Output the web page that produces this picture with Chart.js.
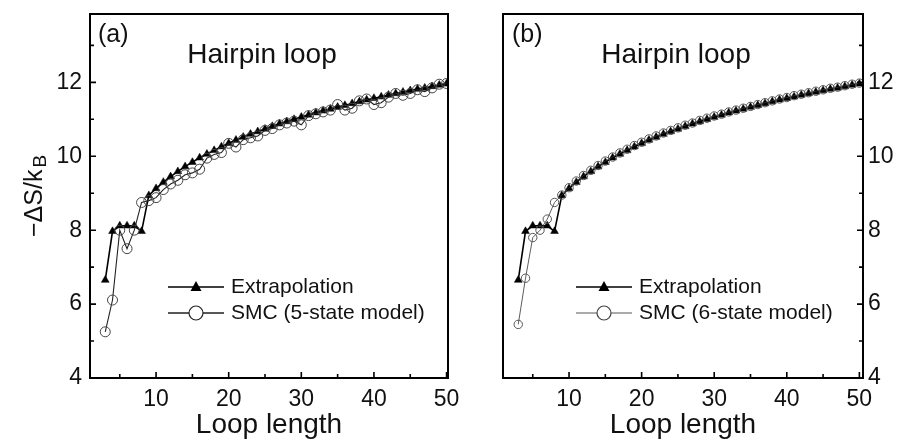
<!DOCTYPE html>
<html>
<head>
<meta charset="utf-8">
<script src="https://cdn.jsdelivr.net/npm/chart.js@4.4.1/dist/chart.umd.min.js"></script>
<style>
    html, body { margin: 0; padding: 0; background: #fff; }
    #wrap { position: relative; width: 900px; height: 443px; }
    .panel { position: absolute; top: 0; height: 443px; }
    #pa { left: 0; width: 460px; }
    #pb { left: 460px; width: 440px; }
</style>
</head>
<body>
<div id="wrap">
    <div class="panel" id="pa"><canvas id="chartA" width="460" height="443"></canvas></div>
    <div class="panel" id="pb"><canvas id="chartB" width="440" height="443"></canvas></div>
</div>
<script>
const loopLength = [3, 4, 5, 6, 7, 8, 9, 10, 11, 12, 13, 14, 15, 16, 17, 18, 19, 20, 21, 22, 23, 24, 25, 26,
    27, 28, 29, 30, 31, 32, 33, 34, 35, 36, 37, 38, 39, 40, 41, 42, 43, 44, 45, 46, 47, 48, 49, 50];
const extrapolation = [6.65, 7.97, 8.12, 8.12, 8.12, 7.97, 8.94, 9.13, 9.30, 9.45, 9.59, 9.72, 9.84, 9.96, 10.06, 10.16,
    10.26, 10.35, 10.44, 10.52, 10.60, 10.67, 10.74, 10.81, 10.88, 10.94, 11.00, 11.06, 11.12, 11.18, 11.23, 11.28,
    11.33, 11.38, 11.43, 11.48, 11.53, 11.57, 11.61, 11.66, 11.70, 11.74, 11.78, 11.82, 11.85, 11.89, 11.93, 11.96];
const smc5 = [5.25, 6.11, 8.0, 7.5, 8.0, 8.75, 8.8, 8.88, 9.1, 9.25, 9.35, 9.5, 9.55, 9.65, 9.95, 10.05,
    10.1, 10.35, 10.25, 10.45, 10.5, 10.55, 10.7, 10.75, 10.85, 10.9, 10.95, 10.85, 11.1, 11.15, 11.2, 11.25,
    11.4, 11.25, 11.3, 11.5, 11.55, 11.4, 11.45, 11.6, 11.7, 11.65, 11.7, 11.8, 11.75, 11.85, 11.95, 11.97];
const smc6 = [5.45, 6.7, 7.8, 8.0, 8.3, 8.75, 8.95, 9.15, 9.33, 9.48, 9.62, 9.75, 9.87, 9.98, 10.09, 10.19,
    10.29, 10.38, 10.47, 10.55, 10.63, 10.7, 10.77, 10.84, 10.9, 10.97, 11.03, 11.09, 11.14, 11.2, 11.25, 11.3,
    11.35, 11.4, 11.45, 11.5, 11.55, 11.59, 11.64, 11.68, 11.72, 11.76, 11.8, 11.84, 11.87, 11.91, 11.95, 11.98];
const xTicks = [10, 20, 30, 40, 50];
const xMinor = [5, 15, 25, 35, 45];
const yTicks = [4, 6, 8, 10, 12];
const yMinor = [5, 7, 9, 11, 13];

const FONT = "'Liberation Sans', Arial, sans-serif";

// box around the plot + inward ticks
const framePlugin = {
    id: 'frame',
    afterDraw(chart, args, opts) {
        const { ctx, chartArea: a, scales: { x, y } } = chart;
        ctx.save();
        ctx.strokeStyle = '#000';
        ctx.lineWidth = 2;
        ctx.strokeRect(a.left, a.top, a.right - a.left, a.bottom - a.top);
        ctx.lineWidth = 1.6;
        ctx.beginPath();
        xTicks.forEach(v => { const p = x.getPixelForValue(v); ctx.moveTo(p, a.bottom); ctx.lineTo(p, a.bottom - 6); });
        xMinor.forEach(v => { const p = x.getPixelForValue(v); ctx.moveTo(p, a.bottom); ctx.lineTo(p, a.bottom - 4); });
        const edge = opts.side === 'right' ? a.right : a.left;
        const dir = opts.side === 'right' ? -1 : 1;
        yTicks.forEach(v => { const p = y.getPixelForValue(v); ctx.moveTo(edge, p); ctx.lineTo(edge + dir * 6, p); });
        yMinor.forEach(v => { const p = y.getPixelForValue(v); ctx.moveTo(edge, p); ctx.lineTo(edge + dir * 4, p); });
        ctx.stroke();
        ctx.restore();
    }
};

// panel letter, title, legend and (panel a) the y title
const notesPlugin = {
    id: 'notes',
    afterDraw(chart, args, o) {
        const ctx = chart.ctx;
        ctx.save();
        ctx.fillStyle = '#111';
        ctx.textBaseline = 'middle';
        ctx.font = `25px ${FONT}`;
        ctx.textAlign = 'left';
        ctx.fillText(o.letter, o.letterX, 35);
        ctx.font = `28px ${FONT}`;
        ctx.textAlign = 'center';
        ctx.fillText('Hairpin loop', o.titleX, 55);

        // legend
        const lx0 = o.legendX, lx1 = o.legendX + 56, mx = o.legendX + 28;
        ctx.strokeStyle = '#000';
        ctx.lineWidth = 1.6;
        ctx.beginPath(); ctx.moveTo(lx0, 287); ctx.lineTo(lx1, 287); ctx.stroke();
        ctx.fillStyle = '#000';
        ctx.beginPath(); ctx.moveTo(mx, 281); ctx.lineTo(mx + 5.5, 291); ctx.lineTo(mx - 5.5, 291); ctx.closePath(); ctx.fill();
        ctx.strokeStyle = o.smcColor;
        ctx.lineWidth = o.smcLine;
        ctx.beginPath(); ctx.moveTo(lx0, 313); ctx.lineTo(mx - 7, 313); ctx.moveTo(mx + 7, 313); ctx.lineTo(lx1, 313); ctx.stroke();
        ctx.lineWidth = 1.2;
        ctx.beginPath(); ctx.arc(mx, 313, 7, 0, Math.PI * 2); ctx.stroke();
        ctx.fillStyle = '#111';
        ctx.font = `21px ${FONT}`;
        ctx.textAlign = 'left';
        ctx.fillText('Extrapolation', lx1 + 7, 287);
        ctx.fillText(o.smcLabel, lx1 + 7, 313);

        if (o.yTitle) {
            ctx.translate(42, 237);
            ctx.rotate(-Math.PI / 2);
            ctx.textBaseline = 'alphabetic';
            ctx.font = `25px ${FONT}`;
            ctx.fillText('\u2212\u0394S/k', 0, 0);
            const w = ctx.measureText('\u2212\u0394S/k').width;
            ctx.font = `19px ${FONT}`;
            ctx.fillText('B', w + 2, 4);
        }
        ctx.restore();
    }
};

function makeChart(id, side, xMax, smc, smcStyle, notes) {
    const right = side === 'right';
    return new Chart(document.getElementById(id), {
        type: 'line',
        data: {
            datasets: [
                {
                    label: 'Extrapolation',
                    data: loopLength.map((v, i) => ({ x: v, y: extrapolation[i] })),
                    borderColor: '#000', borderWidth: 1.6,
                    pointStyle: 'triangle', pointRadius: 4.5,
                    pointBackgroundColor: '#000', pointBorderColor: '#000', pointBorderWidth: 0.5,
                    tension: 0, order: 2
                },
                {
                    label: notes.smcLabel,
                    data: loopLength.map((v, i) => ({ x: v, y: smc[i] })),
                    borderColor: smcStyle.line, borderWidth: smcStyle.lineWidth,
                    pointStyle: 'circle', pointRadius: smcStyle.radius,
                    pointBackgroundColor: 'rgba(0,0,0,0)', pointBorderColor: smcStyle.point, pointBorderWidth: 1,
                    tension: 0, order: 1
                }
            ]
        },
        options: {
            responsive: false,
            animation: false,
            layout: { padding: right ? { left: 43, right: 0, top: 14, bottom: 0 } : { left: 30, right: 12, top: 14, bottom: 0 } },
            plugins: {
                legend: { display: false },
                tooltip: { enabled: false },
                frame: { side },
                notes
            },
            scales: {
                x: {
                    type: 'linear', min: 0.9, max: xMax,
                    afterBuildTicks: s => { s.ticks = xTicks.map(v => ({ value: v })); },
                    afterFit: s => { s.height = 65; s.paddingLeft = 0; s.paddingRight = 0; },
                    grid: { display: false, drawTicks: false },
                    border: { display: false },
                    ticks: { color: '#111', font: { size: 23, family: FONT }, padding: 8, maxRotation: 0, autoSkip: false },
                    title: { display: true, text: 'Loop length', color: '#111', font: { size: 28, family: FONT }, padding: { top: 0, bottom: 1 } }
                },
                y: {
                    type: 'linear', min: 4, max: 13.85,
                    position: side,
                    afterBuildTicks: s => { s.ticks = yTicks.map(v => ({ value: v })); },
                    afterFit: s => { s.width = right ? 37 : 60; s.paddingTop = 0; s.paddingBottom = 0; },
                    grid: { display: false, drawTicks: false },
                    border: { display: false },
                    ticks: { color: '#111', font: { size: 23, family: FONT }, padding: right ? 5 : 8, autoSkip: false }
                }
            }
        },
        plugins: [framePlugin, notesPlugin]
    });
}

makeChart('chartA', 'left', 50.2, smc5,
    { line: '#222', lineWidth: 1.1, point: '#444', radius: 5 },
    { letter: '(a)', letterX: 98, titleX: 262, legendX: 168, smcLabel: 'SMC (5-state model)', smcColor: '#222', smcLine: 1.3, yTitle: true });

makeChart('chartB', 'right', 50.5, smc6,
    { line: '#333', lineWidth: 0.8, point: '#555', radius: 4.2 },
    { letter: '(b)', letterX: 52, titleX: 216, legendX: 116, smcLabel: 'SMC (6-state model)', smcColor: '#444', smcLine: 0.9, yTitle: false });
</script>
</body>
</html>
